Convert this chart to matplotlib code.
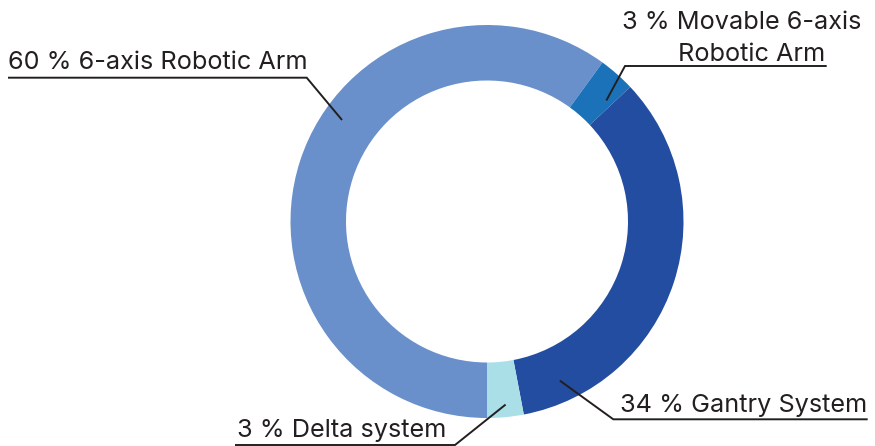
import numpy as np
import matplotlib.pyplot as plt

plt.rcParams['font.family'] = ['Inter', 'DejaVu Sans']

# Robot type shares (%)
labels = ['6-axis Robotic Arm', 'Movable 6-axis Robotic Arm', 'Gantry System', 'Delta system']
shares = [60, 3, 34, 3]
colors = ['#6990ca', '#1b72b9', '#224da0', '#abdfe8']

W, H = 875, 446
cx, cy = 487, H - 221.5
r_out, ring = 196.5, 55.5

fig = plt.figure(figsize=(W / 100, H / 100), dpi=100)
ax = fig.add_axes([0, 0, 1, 1])
ax.pie(shares, colors=colors, radius=r_out, center=(cx, cy),
       startangle=-90, counterclock=False,
       wedgeprops=dict(width=ring, linewidth=0))
ax.set_xlim(0, W)
ax.set_ylim(0, H)
ax.set_aspect('equal')
ax.axis('off')

ink = '#231f20'
fs = 18.2


def pt(bearing, r):
    a = np.radians(bearing)
    return cx + r * np.sin(a), cy + r * np.cos(a)


# label text: (lines, x, baseline y in px from top)
# leader: underline x-range, underline y, anchor bearing/radius on the ring
callouts = [
    ([('%d %% %s' % (shares[0], labels[0]), 8.3, 69.3)], (8, 306.7), 77.7, 305, 177),
    ([('%d %% Movable 6-axis' % shares[1], 621.7, 29), ('Robotic Arm', 678, 61)],
     (826.7, 625), 66, 44.6, 170),
    ([('%d %% %s' % (shares[2], labels[2]), 620, 411.7)], (867.7, 613.3), 419.3, 155.4, 175),
    ([('%d %% %s' % (shares[3], labels[3]), 237.3, 437.3)], (235, 455), 445, 174.2, 184),
]

for lines, (x0, x1), uy, brg, rad in callouts:
    for txt, tx, ty in lines:
        ax.text(tx, H - ty, txt, fontsize=fs, color=ink, ha='left', va='baseline')
    ax_, ay_ = pt(brg, rad)
    ax.plot([x0, x1, ax_], [H - uy, H - uy, ay_], color=ink, lw=1.4,
            solid_capstyle='butt', solid_joinstyle='miter')

fig.savefig('out.png', dpi=100)
